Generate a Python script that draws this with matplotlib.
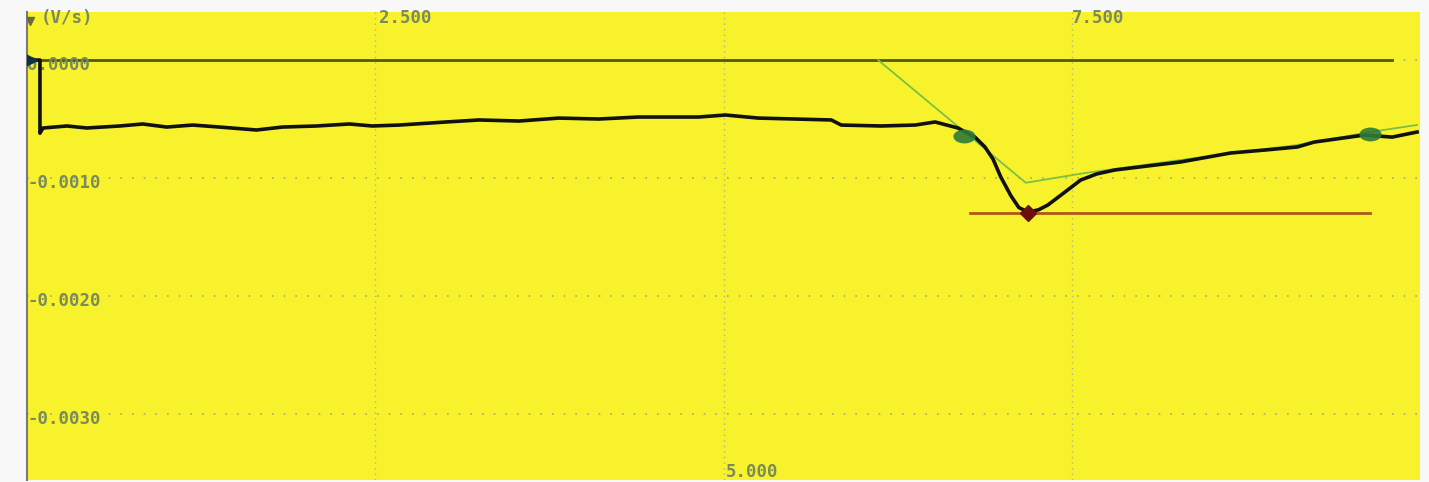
import numpy as np
import matplotlib
matplotlib.use("Agg")
import matplotlib.pyplot as plt
from matplotlib.markers import MarkerStyle
from matplotlib.transforms import Affine2D

trace_t = [0.0, 0.093, 0.093, 0.115, 0.287, 0.430, 0.666, 0.831, 1.003, 1.189, 1.383,
           1.648, 1.834, 2.077, 2.314, 2.479, 2.672, 3.009, 3.245, 3.532, 3.818, 4.105,
           4.391, 4.821, 5.014, 5.251, 5.516, 5.774, 5.845, 6.132, 6.375, 6.519, 6.683,
           6.805, 6.877, 6.935, 6.990, 7.063, 7.120, 7.185, 7.260, 7.328, 7.450, 7.564,
           7.680, 7.808, 8.044, 8.281, 8.639, 8.883, 9.119, 9.241, 9.599, 9.800, 9.979]
trace_v = [0.0, 0.0, -0.000620, -0.000576, -0.000559, -0.000576, -0.000559, -0.000542,
           -0.000568, -0.000551, -0.000568, -0.000593, -0.000568, -0.000559, -0.000542,
           -0.000559, -0.000551, -0.000525, -0.000508, -0.000517, -0.000492, -0.000500,
           -0.000483, -0.000483, -0.000466, -0.000492, -0.000500, -0.000508, -0.000551,
           -0.000559, -0.000551, -0.000525, -0.000576, -0.000653, -0.000737, -0.000840,
           -0.000990, -0.001150, -0.001250, -0.001288, -0.001270, -0.001229, -0.001120,
           -0.001017, -0.000965, -0.000932, -0.000898, -0.000864, -0.000788, -0.000763,
           -0.000737, -0.000695, -0.000636, -0.000653, -0.000610]

# construction line (green)
fit_t = [6.110, 6.690, 7.170, 7.593, 8.281, 9.119, 9.642, 9.979]
fit_v = [0.0, -0.000570, -0.001040, -0.000958, -0.000847, -0.000720, -0.000610, -0.000550]

# cursors
baseline_v = 0.0
baseline_t = [0.0, 9.80]
min_v = -0.001297
min_t = [6.77, 9.64]
min_point = (7.185, -0.001300)
knee_points_t = [6.73, 9.64]
knee_points_v = [-0.000640, -0.000630]

x_ticks = [2.5, 5.0, 7.5]
x_labels = ["2.500", "5.000", "7.500"]
y_ticks = [0.0, -0.001, -0.002, -0.003]
y_labels = ["0.0000", "-0.0010", "-0.0020", "-0.0030"]

W, H = 1429, 482
fig = plt.figure(figsize=(W / 100, H / 100), dpi=100)
fig.patch.set_facecolor("#f8f8f8")
ax = fig.add_axes([27 / W, 2 / H, (1420 - 27) / W, (480 - 12) / H])
ax.set_facecolor("#f8f22c")
ax.set_xlim(0, 10)
ax.set_ylim(-0.003559, 0.000407)

# dotted grid
grid_kw = dict(color="#a8a878", lw=1.2, ls=(0, (1, 6)), zorder=1)
for xt in x_ticks:
    ax.axvline(xt, color="#b4b48a", lw=1.0, ls=(0, (1, 3)), zorder=1)
for yt in y_ticks[1:]:
    ax.axhline(yt, **grid_kw)
ax.axhline(0, xmin=0.98, **grid_kw)

ax.plot(baseline_t, [baseline_v, baseline_v], color="#4a5a1a", lw=2, zorder=2)
ax.plot(fit_t, fit_v, color="#7cc040", lw=1.3, zorder=3)
ax.plot(min_t, [min_v, min_v], color="#b05818", lw=2, zorder=3)
ax.plot(trace_t, trace_v, color="#111111", lw=2.6, zorder=4)

ell = MarkerStyle("o", transform=Affine2D().scale(1.6, 1.0))
ax.plot(knee_points_t, knee_points_v, ls="none", marker=ell, ms=10, color="#2f7a38",
        alpha=0.9, markeredgecolor="none", zorder=5)
ax.plot(*min_point, "D", ms=8, color="#6a1010", zorder=5)
ax.plot(0.02, 0.0, ">", ms=10, color="#10304a", zorder=5)
ax.plot(0.02, 0.00033, "v", ms=6, color="#6a6a40", zorder=5)

# labels drawn inside the screen
lab_kw = dict(color="#7a8a5c", family="DejaVu Sans Mono", fontsize=12.5, fontweight="bold")
for yt, lab in zip(y_ticks, y_labels):
    ax.text(0.0, yt - 0.00004, lab, va="center", ha="left", **lab_kw)
ax.text(x_ticks[0] + 0.03, 0.00036, x_labels[0], va="center", ha="left", **lab_kw)
ax.text(x_ticks[2] + 0.0, 0.00036, x_labels[2], va="center", ha="left", **lab_kw)
ax.text(x_ticks[1] + 0.02, -0.00349, x_labels[1], va="center", ha="left", **lab_kw)
ax.text(0.10, 0.00036, "(V/s)", va="center", ha="left", **lab_kw)

ax.set_xticks([])
ax.set_yticks([])
for side in ["top", "right", "bottom"]:
    ax.spines[side].set_visible(False)
ax.spines["left"].set_color("#7a7a7a")
ax.spines["left"].set_linewidth(1.5)

fig.savefig("out.png", dpi=100, facecolor=fig.get_facecolor())
